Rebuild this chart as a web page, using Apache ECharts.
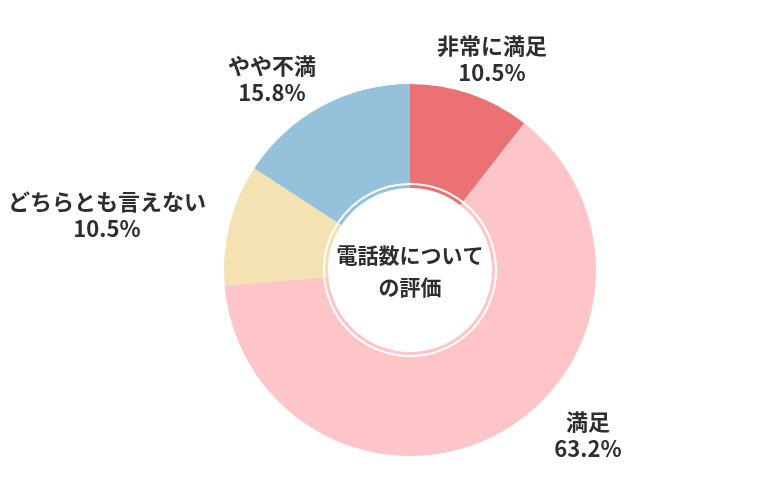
<!DOCTYPE html>
<html lang="ja">
<head>
<meta charset="utf-8">
<title>電話数についての評価</title>
<script src="https://cdn.jsdelivr.net/npm/echarts@6/dist/echarts.min.js"></script>
<style>
    html, body { margin: 0; padding: 0; background: #fff; }
    #chart { width: 780px; height: 500px; }
</style>
</head>
<body>
<div id="chart"></div>
<script>
// データ
const categories = ['非常に満足', '満足', 'どちらとも言えない', 'やや不満'];
const counts = [2, 12, 2, 3];
const colors = ['#ec7173', '#fdc5c7', '#f5e2b2', '#95c2da'];
const centerTitle = '電話数について\nの評価';

// ラベルの位置（見た目合わせ）
const labelPos = [[492, 59], [588, 435], [107, 215], [272, 79]];

document.addEventListener('DOMContentLoaded', function () {
    initChart();
});

function initChart() {
    const chartDom = document.getElementById('chart');
    const myChart = echarts.init(chartDom);
    const font = '"Noto Sans CJK JP", "Noto Sans", sans-serif';

    const pieData = categories.map(function (name, i) {
        return { name: name, value: counts[i], itemStyle: { color: colors[i] } };
    });

    const option = {
        backgroundColor: '#fff',
        animation: false,
        series: [
            {
                name: '評価',
                type: 'pie',
                center: [410, 270],
                radius: [87, 186],
                startAngle: 90,
                clockwise: true,
                percentPrecision: 1,
                itemStyle: { borderWidth: 0 },
                label: {
                    show: true,
                    position: 'outside',
                    alignTo: 'none',
                    overflow: 'none',
                    fontFamily: font,
                    fontSize: 22,
                    fontWeight: 'bold',
                    color: '#2e2e2e',
                    lineHeight: 27,
                    align: 'center',
                    formatter: function (p) {
                        return p.name + '\n' + p.percent.toFixed(1) + '%';
                    }
                },
                labelLine: { show: false },
                labelLayout: function (params) {
                    const pos = labelPos[params.dataIndex];
                    return { x: pos[0], y: pos[1], align: 'center', verticalAlign: 'middle' };
                },
                emphasis: { disabled: true },
                data: pieData
            },
            {
                // 内側の細いリング
                name: 'ring',
                type: 'pie',
                center: [410, 270],
                radius: [82, 85],
                startAngle: 90,
                clockwise: true,
                silent: true,
                label: { show: false },
                labelLine: { show: false },
                emphasis: { disabled: true },
                data: pieData
            }
        ],
        graphic: [
            {
                type: 'text',
                x: 410,
                y: 271,
                style: {
                    text: centerTitle,
                    align: 'center',
                    verticalAlign: 'middle',
                    fill: '#2e2e2e',
                    font: 'bold 21px ' + font,
                    lineHeight: 32
                },
                z: 100
            }
        ]
    };

    myChart.setOption(option);

    window.addEventListener('resize', function () {
        myChart.resize();
    });
}
</script>
</body>
</html>
